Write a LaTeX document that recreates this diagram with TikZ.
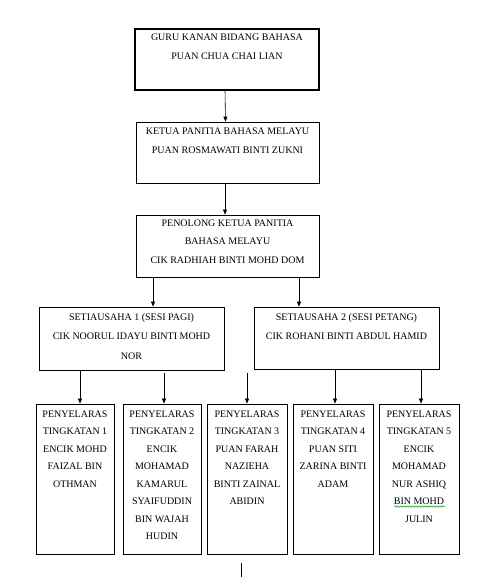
\documentclass[tikz,border=0pt]{standalone}
\usepackage{fontspec}
\setmainfont{Liberation Serif}
\usetikzlibrary{arrows.meta,decorations.pathmorphing}
\begin{document}
\begin{tikzpicture}[x=1pt,y=-1pt,
  box/.style={draw=black,line width=0.8pt,minimum width=#1,inner sep=0pt},
  txt/.style={anchor=north,align=center,inner xsep=0pt,inner ysep=0pt,
    font=\fontsize{10}{19}\selectfont},
  smalltxt/.style={anchor=north,align=center,inner xsep=0pt,inner ysep=0pt,
    font=\fontsize{10}{17.5}\selectfont},
  arr/.style={line width=0.6pt,-{Triangle[width=4pt,length=5pt]}},
  plain/.style={line width=0.6pt},
  squiggle/.style={draw=green!60!black,line width=0.5pt,decorate,
    decoration={snake,amplitude=0.8pt,segment length=3pt}}]
\useasboundingbox[fill=white] (0,0) rectangle (477,577);
% top boxes
\node[box=184pt,minimum height=61pt,line width=1.3pt] (b1) at (227,59.5) {};
\node[box=183pt,minimum height=61pt] (b2) at (227.5,152.5) {};
\node[box=183pt,minimum height=62pt] (b3) at (227.5,246) {};
\node[box=185pt,minimum height=63pt] (s1) at (131.5,338.5) {};
\node[box=185pt,minimum height=62pt] (s2) at (346.5,338) {};
% bottom boxes
\node[box=78pt,minimum height=150pt] (pa) at (75,479) {};
\node[box=78pt,minimum height=150pt] (pb) at (162,479) {};
\node[box=80pt,minimum height=150pt] (pc) at (247,479) {};
\node[box=80pt,minimum height=150pt] (pd) at (333,479) {};
\node[box=80pt,minimum height=150pt] (pe) at (419,479) {};
% texts
\node[txt] (t1) at ([yshift=-5.5pt]b1.north) {GURU KANAN BIDANG BAHASA\\PUAN CHUA CHAI LIAN};
\node[txt] (t2) at ([yshift=-6.4pt]b2.north) {KETUA PANITIA BAHASA MELAYU\\PUAN ROSMAWATI BINTI ZUKNI};
\node[txt,font=\fontsize{10}{18.5}\selectfont] (t3) at ([yshift=-4.7pt]b3.north) {PENOLONG KETUA PANITIA\\BAHASA MELAYU\\CIK RADHIAH BINTI MOHD DOM};
\node[txt,font=\fontsize{10}{19.5}\selectfont] (ts1) at ([yshift=-6.5pt]s1.north) {SETIAUSAHA 1 (SESI PAGI)\\CIK NOORUL IDAYU BINTI MOHD\\NOR};
\node[txt,font=\fontsize{10}{19.5}\selectfont] (ts2) at ([yshift=-6.5pt]s2.north) {SETIAUSAHA 2 (SESI PETANG)\\CIK ROHANI BINTI ABDUL HAMID};
\node[smalltxt] (ta) at ([yshift=-6.7pt]pa.north) {PENYELARAS\\TINGKATAN 1\\ENCIK MOHD\\FAIZAL BIN\\OTHMAN};
\node[smalltxt] (tb) at ([yshift=-6.7pt]pb.north) {PENYELARAS\\TINGKATAN 2\\ENCIK\\MOHAMAD\\KAMARUL\\SYAIFUDDIN\\BIN WAJAH\\HUDIN};
\node[smalltxt] (tc) at ([yshift=-6.7pt]pc.north) {PENYELARAS\\TINGKATAN 3\\PUAN FARAH\\NAZIEHA\\BINTI ZAINAL\\ABIDIN};
\node[smalltxt] (td) at ([yshift=-6.7pt]pd.north) {PENYELARAS\\TINGKATAN 4\\PUAN SITI\\ZARINA BINTI\\ADAM};
\node[smalltxt] (te) at ([yshift=-6.7pt]pe.north) {PENYELARAS\\TINGKATAN 5\\ENCIK\\MOHAMAD\\NUR ASHIQ\\BIN MOHD\\JULIN};
% connectors
\draw[arr] ([xshift=-2pt]b1.south) -- ([xshift=-2pt]b2.north);
\draw[arr] ([xshift=-2.5pt]b2.south) -- ([xshift=-2.5pt]b3.north);
\draw[arr] ([xshift=-74.5pt]b3.south) -- ([xshift=21.5pt]s1.north);
\draw[arr] ([xshift=71.5pt]b3.south) -- ([xshift=-47.5pt]s2.north);
\draw[arr] ([xshift=-51.5pt]s1.south) -- ([xshift=5pt]pa.north);
\draw[arr] ([xshift=32.5pt,yshift=-3pt]s1.south) -- ([xshift=2pt]pb.north);
\coordinate (cstart) at (247,373);
\draw[arr] (cstart) -- (pc.north);
\draw[arr] ([xshift=-11.5pt]s2.south) -- ([xshift=2pt]pd.north);
\draw[arr] ([xshift=74.5pt]s2.south) -- ([xshift=2pt]pe.north);
% spell-check squiggle under BIN MOHD
\coordinate (q1) at (394,506.5);
\coordinate (q2) at (445,506.5);
\draw[squiggle] (q1) -- (q2);
% stray mark
\coordinate (m1) at (241.5,563);
\coordinate (m2) at (241.5,577);
\draw[plain] (m1) -- (m2);
\end{tikzpicture}
\end{document}
